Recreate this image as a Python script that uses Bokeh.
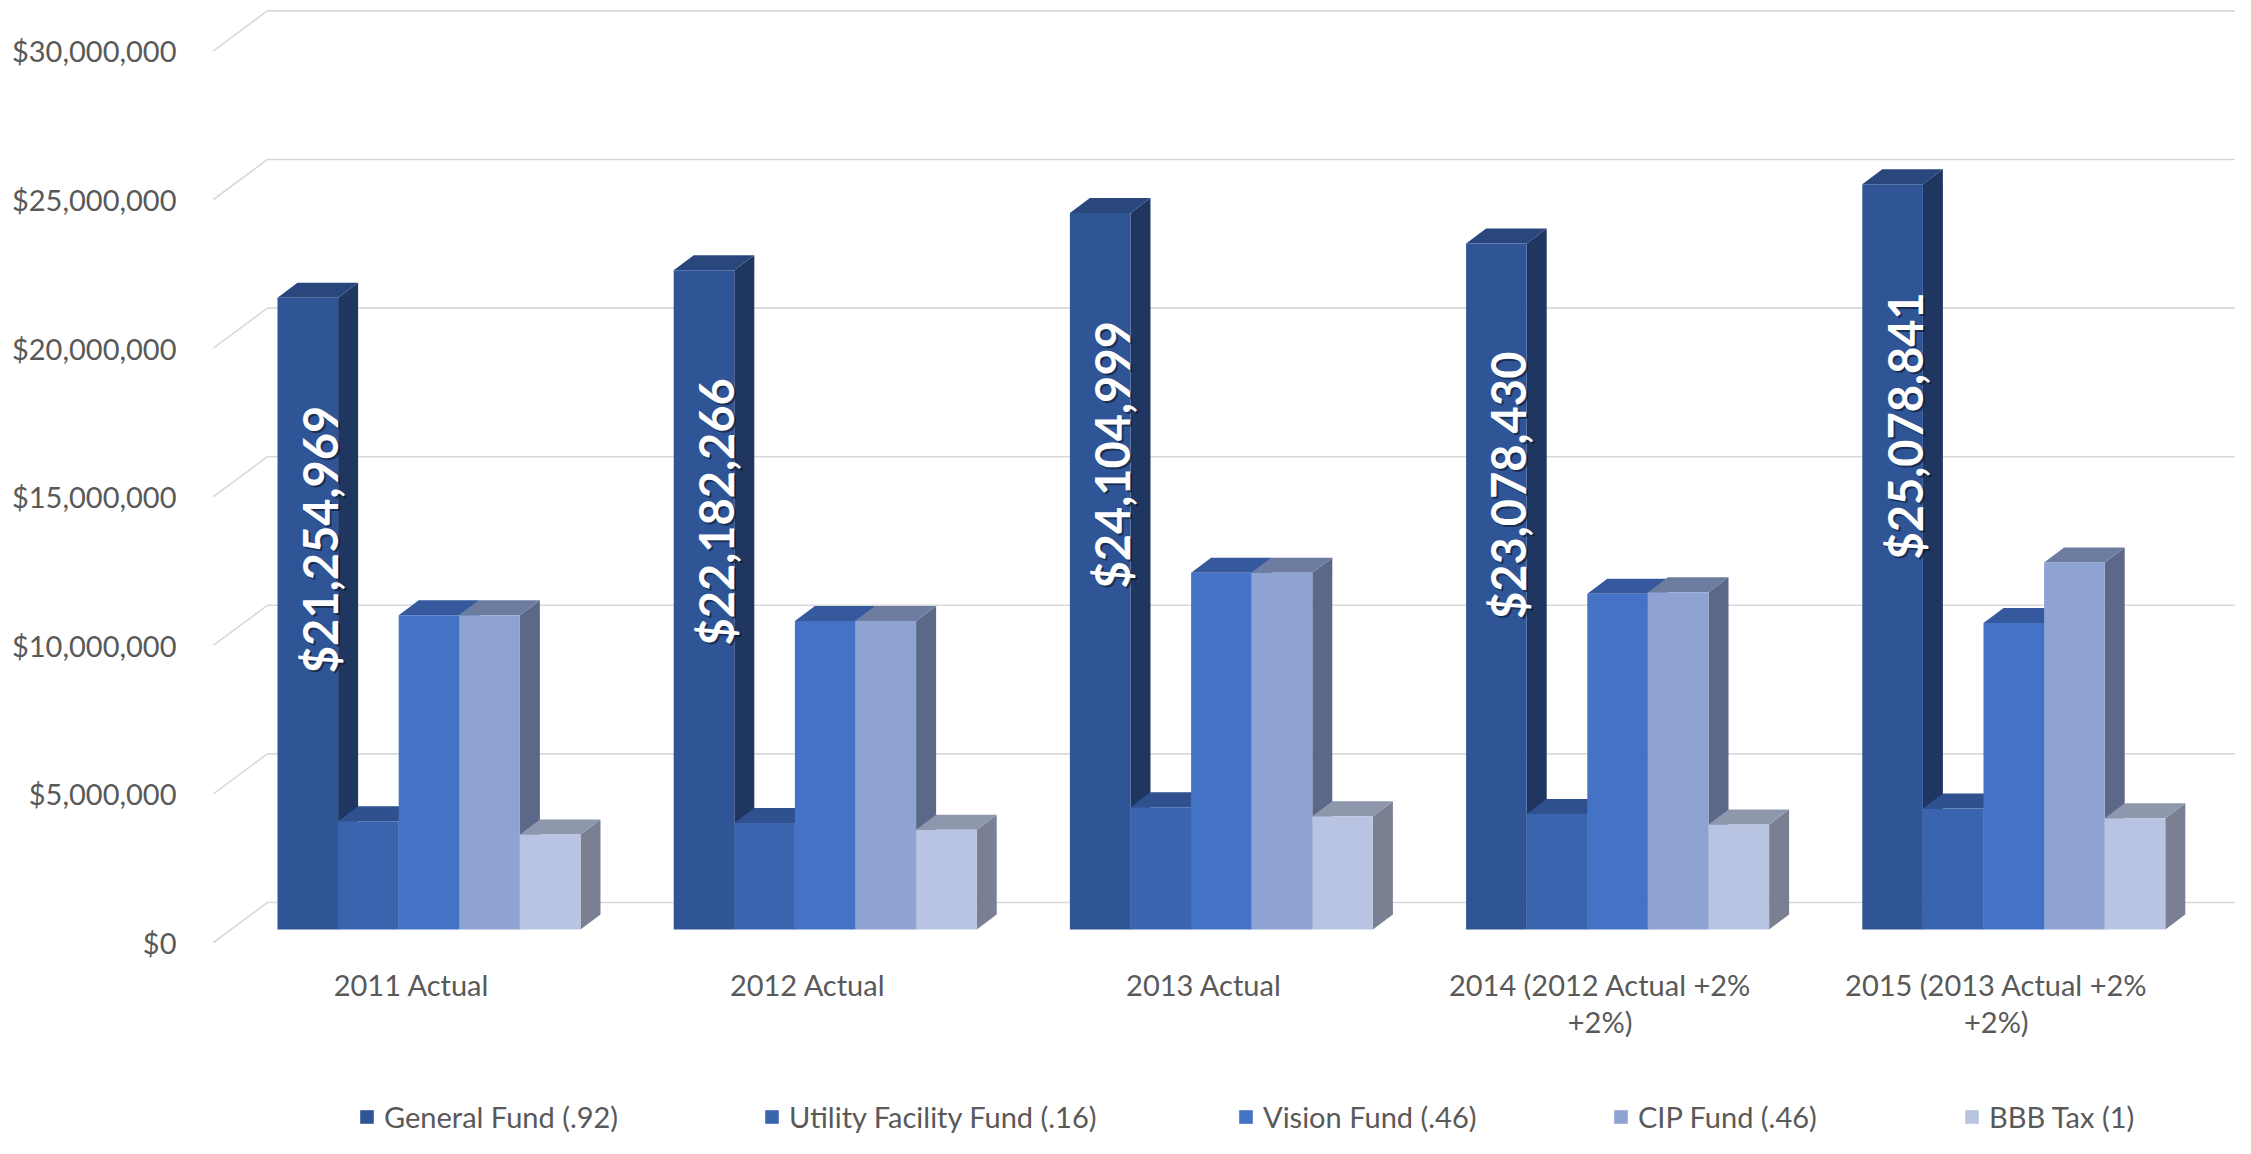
import math
from bokeh.plotting import figure
from bokeh.models import Range1d, FixedTicker, NumeralTickFormatter, Legend, LegendItem, ColumnDataSource
from bokeh.core.properties import value
from bokeh.embed import file_html
from bokeh.resources import INLINE

# ---------------- data ----------------
categories = ["2011 Actual", "2012 Actual", "2013 Actual",
              "2014 (2012 Actual +2%\n+2%)", "2015 (2013 Actual +2%\n+2%)"]
series_names = ["General Fund (.92)", "Utility Facility Fund (.16)", "Vision Fund (.46)",
                "CIP Fund (.46)", "BBB Tax (1)"]
general_fund = [21254969, 22182266, 24104999, 23078430, 25078841]
utility_fund = [3640000, 3580000, 4110000, 3890000, 4070000]
vision_fund = [10570000, 10380000, 12000000, 11300000, 10310000]
cip_fund = [10570000, 10380000, 12000000, 11350000, 12350000]
bbb_tax = [3200000, 3360000, 3810000, 3530000, 3740000]
y_ticks = [0, 5000000, 10000000, 15000000, 20000000, 25000000, 30000000]
series_values = [general_fund, utility_fund, vision_fund, cip_fund, bbb_tax]

# ---------------- style ----------------
front_colors = ["#2F5597", "#3A64AE", "#4472C4", "#8FA2D4", "#B9C3E2"]
top_colors = ["#29477D", "#2F518F", "#35599C", "#6D7DA0", "#8E97AC"]
side_colors = ["#1F3660", "#2A4A82", "#33589A", "#5B6888", "#7A8092"]
TEXT = "#595959"
GRID = "#D9D9D9"
FONT = "Lato"

W, H = 2235, 1138
LEFT = 190
frame_w, frame_h = W - LEFT, H
USD_PER_PX = 5000000 / 148.6       # vertical scale
GROUP_PX = 396.2                    # horizontal scale (one category)
ZERO_PX = 942                       # canvas y of $0 on the front plane
G0_PX = 428.5 - LEFT                # group 0 centre, relative to frame

y_start = -(H - ZERO_PX) * USD_PER_PX
y_end = ZERO_PX * USD_PER_PX
x_start = -G0_PX / GROUP_PX
x_end = x_start + frame_w / GROUP_PX
XU = 1.0 / GROUP_PX
YU = USD_PER_PX

BW = 60.6 * XU
FRONT_DX, FRONT_DY = 17.5 * XU, 13 * YU     # bar front vs. floor front
BAR_DX, BAR_DY = 20 * XU, 15 * YU           # bar depth
WALL_DX, WALL_DY = 54 * XU, 40 * YU         # floor depth

p = figure(width=W, height=H, x_range=Range1d(x_start, x_end), y_range=Range1d(y_start, y_end),
           output_backend="svg", toolbar_location=None, x_axis_location=None,
           y_axis_location="left", min_border_left=LEFT, min_border_right=0,
           min_border_top=0, min_border_bottom=0, outline_line_color=None)
p.grid.visible = False

# gridlines: side wall diagonal + back wall
floor_left = -0.5 - FRONT_DX
gx, gy = [], []
for t in y_ticks:
    gx.append([floor_left, floor_left + WALL_DX, x_end])
    gy.append([t, t + WALL_DY, t + WALL_DY])
p.multi_line(gx, gy, line_color=GRID, line_width=1.6)

# bars
n = len(categories)
front_renderers = []
for j, vals in enumerate(series_values):
    sx, sy, tx, ty = [], [], [], []
    left, right, bottom, top = [], [], [], []
    for i in range(n):
        xl = i - 2.5 * BW + j * BW
        xr = xl + BW
        yb = FRONT_DY
        yt = vals[i] + FRONT_DY
        sx.append([xr, xr + BAR_DX, xr + BAR_DX, xr])
        sy.append([yb, yb + BAR_DY, yt + BAR_DY, yt])
        tx.append([xl, xr, xr + BAR_DX, xl + BAR_DX])
        ty.append([yt, yt, yt + BAR_DY, yt + BAR_DY])
        left.append(xl); right.append(xr); bottom.append(yb); top.append(yt)
    p.patches(sx, sy, fill_color=side_colors[j], line_color=None)
    p.patches(tx, ty, fill_color=top_colors[j], line_color=None)
    r = p.quad(left=left, right=right, bottom=bottom, top=top,
               fill_color=front_colors[j], line_color=None)
    front_renderers.append(r)

# data labels on General Fund
lab_x = [i - 2 * BW + 12 * XU for i in range(n)]
lab_y = [v + FRONT_DY - 108 * YU for v in general_fund]
lab_t = ["${:,}".format(v) for v in general_fund]
src = ColumnDataSource(dict(x=lab_x, y=lab_y, t=lab_t))
p.text("x", "y", text="t", source=src, angle=math.pi / 2, text_align="right",
       text_baseline="middle", text_font=value(FONT), text_font_style="bold",
       text_font_size="47px", text_color="black", text_alpha=0.45, x_offset=2, y_offset=2)
p.text("x", "y", text="t", source=src, angle=math.pi / 2, text_align="right",
       text_baseline="middle", text_font=value(FONT), text_font_style="bold",
       text_font_size="47px", text_color="white")

# category labels (on the floor front edge)
line1 = [c.split("\n")[0] for c in categories]
line2 = [c.split("\n")[1] if "\n" in c else "" for c in categories]
cx = [i - FRONT_DX for i in range(n)]
p.text(cx, [-42 * YU] * n, text=line1, text_align="center", text_baseline="middle",
       text_font=value(FONT), text_font_size="29px", text_color=TEXT)
p.text(cx, [-79 * YU] * n, text=line2, text_align="center", text_baseline="middle",
       text_font=value(FONT), text_font_size="29px", text_color=TEXT)

# y axis
ax = p.yaxis[0]
ax.ticker = FixedTicker(ticks=y_ticks)
ax.formatter = NumeralTickFormatter(format="$0,0")
ax.axis_line_color = None
ax.major_tick_line_color = None
ax.minor_tick_line_color = None
ax.major_label_standoff = 8
ax.major_label_text_font = FONT
ax.major_label_text_font_size = "29px"
ax.major_label_text_color = TEXT

# legend: one entry per series
legend_x = [168, 573, 1047, 1422, 1773]
for j, name in enumerate(series_names):
    leg = Legend(items=[LegendItem(label=name, renderers=[front_renderers[j]])],
                 location=(legend_x[j], 4), orientation="horizontal",
                 glyph_width=17, glyph_height=17, label_standoff=9, padding=0, margin=0,
                 spacing=0, border_line_color=None, background_fill_alpha=0,
                 label_text_font=FONT, label_text_font_size="29px", label_text_color=TEXT,
                 label_text_baseline="middle")
    p.add_layout(leg)

open("out.html", "w").write(file_html(p, INLINE))
